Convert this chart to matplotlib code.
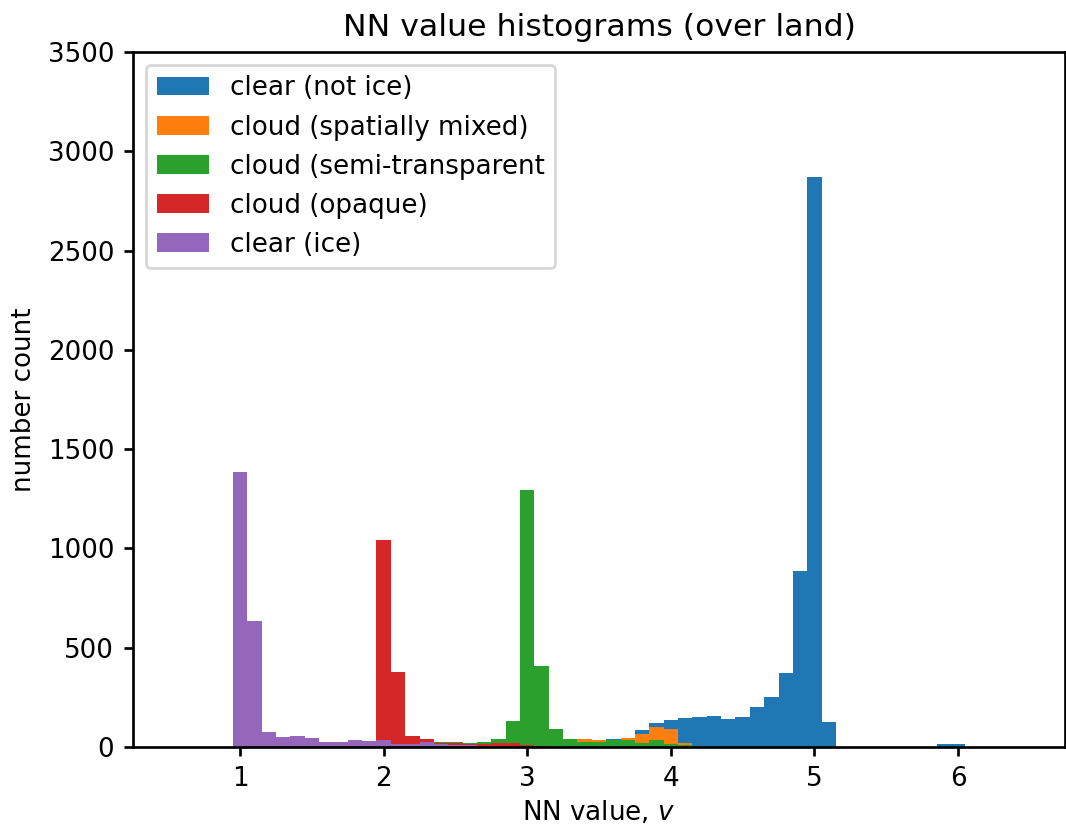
import numpy as np
import matplotlib
matplotlib.use("Agg")
import matplotlib.pyplot as plt

# Shared histogram binning: 0.1-wide bins centred on 0.6 ... 6.4
bin_edges = np.round(np.arange(0.55, 6.46, 0.1), 2)
bin_centers = np.round((bin_edges[:-1] + bin_edges[1:]) / 2, 2)

labels = [
    "clear (not ice)",
    "cloud (spatially mixed)",
    "cloud (semi-transparent",
    "cloud (opaque)",
    "clear (ice)",
]
colors = ["#1f77b4", "#ff7f0e", "#2ca02c", "#d62728", "#9467bd"]

# Counts per class, listed from the first populated bin centre onward
clear_start = 3.5
clear_counts = [20, 38, 40, 85, 120, 138, 145, 150, 158, 143, 150, 203, 253,
                372, 885, 2870, 128, 0, 0, 0, 0, 0, 0, 0, 15, 15]

mixed_start = 3.4
mixed_counts = [40, 35, 30, 45, 67, 100, 90, 20, 5]

semi_start = 2.4
semi_counts = [25, 25, 20, 25, 38, 133, 1295, 407, 90, 38, 27, 27, 35, 35,
               22, 35, 15, 8, 5]

opaque_start = 2.0
opaque_counts = [1045, 378, 58, 38, 20, 18, 15, 15, 18, 18, 10, 5]

ice_start = 1.0
ice_counts = [1385, 635, 75, 50, 55, 45, 25, 25, 35, 30, 35, 15, 15, 27, 15,
              12, 8, 5]


def spread(start, counts):
    """Place a run of counts into the full set of bins."""
    full = np.zeros(len(bin_centers))
    i0 = int(round((start - bin_centers[0]) / 0.1))
    full[i0:i0 + len(counts)] = counts
    return full


series = [
    spread(clear_start, clear_counts),
    spread(mixed_start, mixed_counts),
    spread(semi_start, semi_counts),
    spread(opaque_start, opaque_counts),
    spread(ice_start, ice_counts),
]

plt.rcParams["font.size"] = 9.7

dpi = 194
fig = plt.figure(figsize=(1066 / dpi, 825 / dpi), dpi=dpi)
ax = fig.add_axes([0.1248, 0.0945, 0.8743, 0.8425])

for weights, label, color in zip(series, labels, colors):
    ax.hist(bin_centers, bins=bin_edges, weights=weights, color=color,
            label=label)

ax.set_ylim(0, 3500)
ax.set_title("NN value histograms (over land)", fontsize=11.7)
ax.set_xlabel("NN value, $v$", fontsize=9.7, labelpad=2.5)
ax.set_ylabel("number count", fontsize=9.7)
ax.legend(loc="upper left", fontsize=9.7)

for s in ax.spines.values():
    s.set_linewidth(1.0)
ax.tick_params(width=1.0, labelsize=9.7)

fig.savefig("out.png", dpi=dpi)
